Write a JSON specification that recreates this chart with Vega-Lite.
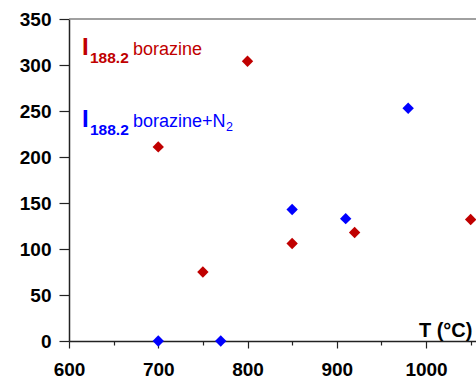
{
  "$schema": "https://vega.github.io/schema/vega-lite/v6.json",
  "width": 407,
  "height": 322,
  "autosize": "none",
  "padding": {"left": 69, "top": 19, "right": 0, "bottom": 37},
  "background": "white",
  "config": {
    "view": {"stroke": null},
    "font": "Liberation Sans"
  },
  "datasets": {
    "points": [
      {"T": 700, "I": 211, "series": "borazine"},
      {"T": 750, "I": 75, "series": "borazine"},
      {"T": 800, "I": 304, "series": "borazine"},
      {"T": 850, "I": 106, "series": "borazine"},
      {"T": 920, "I": 118, "series": "borazine"},
      {"T": 1050, "I": 132, "series": "borazine"},
      {"T": 700, "I": 0, "series": "borazine+N2"},
      {"T": 770, "I": 0, "series": "borazine+N2"},
      {"T": 850, "I": 143, "series": "borazine+N2"},
      {"T": 910, "I": 133, "series": "borazine+N2"},
      {"T": 980, "I": 253, "series": "borazine+N2"}
    ],
    "labels": [
      {"x": 614.6, "y": 311, "text": "I", "color": "#c00000", "kind": "I"},
      {"x": 623.5, "y": 302, "text": "188.2", "color": "#c00000", "kind": "sub"},
      {"x": 671.7, "y": 311, "text": "borazine", "color": "#c00000", "kind": "main"},
      {"x": 614.6, "y": 232.6, "text": "I", "color": "#0000ff", "kind": "I"},
      {"x": 623.5, "y": 224, "text": "188.2", "color": "#0000ff", "kind": "sub"},
      {"x": 671.7, "y": 232.6, "text": "borazine+N", "color": "#0000ff", "kind": "main"},
      {"x": 776, "y": 228.5, "text": "2", "color": "#0000ff", "kind": "small"}
    ]
  },
  "layer": [
    {
      "data": {"name": "points"},
      "mark": {"type": "point", "shape": "diamond", "filled": true, "size": 130, "opacity": 1},
      "encoding": {
        "x": {
          "field": "T", "type": "quantitative",
          "scale": {"domain": [600, 1056], "nice": false, "zero": false},
          "axis": {
            "title": null,
            "values": [600, 650, 700, 750, 800, 850, 900, 950, 1000, 1050],
            "labelExpr": "datum.value % 100 === 0 ? datum.label : ''",
            "tickSize": {"condition": {"test": "datum.value % 100 === 0", "value": 7}, "value": 4},
            "labelPadding": 12,
            "labelFontSize": 19,
            "labelFontWeight": "bold",
            "labelColor": "black",
            "labelFlush": false,
            "labelOverlap": false,
            "grid": false,
            "domainColor": "#222222",
            "domainWidth": 1.5,
            "tickColor": "#222222",
            "tickWidth": 1.2,
            "format": "d"
          }
        },
        "y": {
          "field": "I", "type": "quantitative",
          "scale": {"domain": [0, 350], "nice": false},
          "axis": {
            "title": null,
            "values": [0, 25, 50, 75, 100, 125, 150, 175, 200, 225, 250, 275, 300, 325, 350],
            "labelExpr": "datum.value % 50 === 0 ? datum.label : ''",
            "tickSize": {"condition": {"test": "datum.value % 50 === 0", "value": 10}, "value": 6},
            "labelPadding": 8,
            "labelFontSize": 19,
            "labelFontWeight": "bold",
            "labelColor": "black",
            "labelFlush": false,
            "labelOverlap": false,
            "grid": false,
            "domainColor": "#222222",
            "domainWidth": 1.5,
            "tickColor": "#222222",
            "tickWidth": 1.2
          }
        },
        "color": {
          "field": "series", "type": "nominal",
          "scale": {"domain": ["borazine", "borazine+N2"], "range": ["#c00000", "#0000ff"]},
          "legend": null
        }
      }
    },
    {
      "data": {"values": [{"I": 350}]},
      "mark": {"type": "rule", "color": "#808080", "strokeWidth": 1.5},
      "encoding": {
        "y": {"field": "I", "type": "quantitative"}
      }
    },
    {
      "data": {"name": "labels"},
      "transform": [{"filter": "datum.kind === 'I'"}],
      "mark": {"type": "text", "align": "left", "baseline": "alphabetic", "fontSize": 24, "fontWeight": "bold"},
      "encoding": {
        "x": {"field": "x", "type": "quantitative"},
        "y": {"field": "y", "type": "quantitative"},
        "text": {"field": "text"},
        "color": {"field": "color", "type": "nominal", "scale": null}
      }
    },
    {
      "data": {"name": "labels"},
      "transform": [{"filter": "datum.kind === 'sub'"}],
      "mark": {"type": "text", "align": "left", "baseline": "alphabetic", "fontSize": 15.5, "fontWeight": "bold"},
      "encoding": {
        "x": {"field": "x", "type": "quantitative"},
        "y": {"field": "y", "type": "quantitative"},
        "text": {"field": "text"},
        "color": {"field": "color", "type": "nominal", "scale": null}
      }
    },
    {
      "data": {"name": "labels"},
      "transform": [{"filter": "datum.kind === 'main'"}],
      "mark": {"type": "text", "align": "left", "baseline": "alphabetic", "fontSize": 18},
      "encoding": {
        "x": {"field": "x", "type": "quantitative"},
        "y": {"field": "y", "type": "quantitative"},
        "text": {"field": "text"},
        "color": {"field": "color", "type": "nominal", "scale": null}
      }
    },
    {
      "data": {"name": "labels"},
      "transform": [{"filter": "datum.kind === 'small'"}],
      "mark": {"type": "text", "align": "left", "baseline": "alphabetic", "fontSize": 12.5},
      "encoding": {
        "x": {"field": "x", "type": "quantitative"},
        "y": {"field": "y", "type": "quantitative"},
        "text": {"field": "text"},
        "color": {"field": "color", "type": "nominal", "scale": null}
      }
    },
    {
      "data": {"values": [{"x": 1052, "y": 4.3, "text": "T  (°C)"}]},
      "mark": {"type": "text", "align": "right", "baseline": "alphabetic", "fontSize": 20, "fontWeight": "bold", "color": "black"},
      "encoding": {
        "x": {"field": "x", "type": "quantitative"},
        "y": {"field": "y", "type": "quantitative"},
        "text": {"field": "text"}
      }
    }
  ]
}
